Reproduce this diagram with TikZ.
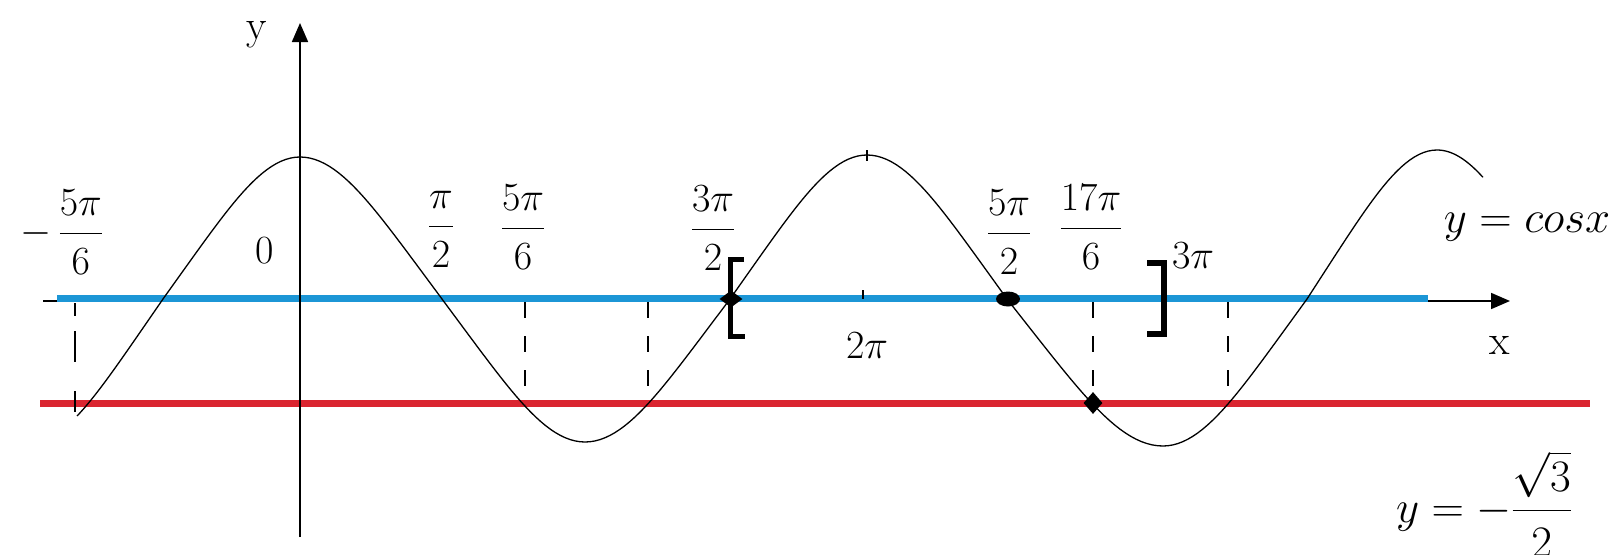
\documentclass[tikz,border=0pt]{standalone}
\usepackage{fix-cm}
\usepackage{amsmath}
\usetikzlibrary{arrows.meta,shapes.geometric}
\definecolor{lineblue}{RGB}{28,150,214}
\definecolor{linered}{RGB}{218,37,48}
\newcommand{\myfrac}[2]{\dfrac{\rule[-0.36em]{0pt}{0.36em}#1}{\rule{0pt}{0.96em}#2}}
% one quarter wave: extreme (#1,#2), axis crossing at x=#3 on y=#4, parameter from #5 to #6 degrees
\newcommand{\qwave}[6]{plot[domain=#5:#6,samples=30,variable=\t] ({#1+(#3-#1)*\t/90},{#4+(#2-#4)*cos(\t)*(1-0.14*sin(\t)*sin(\t))})}
\newcommand{\qwavec}[6]{--plot[domain=#5:#6,samples=30,variable=\t] ({#1+(#3-#1)*\t/90},{#4+(#2-#4)*cos(\t)*(1-0.14*sin(\t)*sin(\t))})}
\begin{document}
\begin{tikzpicture}[x=1pt,y=-1pt,
  lab/.style={inner sep=0pt,font=\fontsize{40}{48}\selectfont},
  eqlab/.style={inner sep=0pt,font=\fontsize{45}{54}\selectfont},
  axlab/.style={inner sep=0pt,font=\fontsize{42}{50}\selectfont},
  axisline/.style={line width=1.8pt,-{Triangle[length=19pt,width=16pt]}},
  curveline/.style={line width=1.3pt,line join=round},
  guide/.style={line width=1.4pt,dash pattern=on 16pt off 18pt},
  bracketline/.style={line width=5pt,line join=miter},
  bandblue/.style={line width=7pt,draw=lineblue},
  bandred/.style={line width=7pt,draw=linered},
  dot/.style={fill=black,inner sep=0pt}]
\fill[white] (0,0) rectangle (1619,554);
\useasboundingbox (0,0) rectangle (1619,554);

% coordinates
\coordinate (xs) at (43,301);
\coordinate (xe) at (1510,301);
\coordinate (ys) at (300,537);
\coordinate (ye) at (300,23);

% red line y = -sqrt3/2
\draw[bandred] (40,403) -- (1590,403);
% x axis
\draw[axisline] (xs) -- (xe);
% blue band on x axis
\draw[bandblue] (57,298) -- (1428,298);

% dashed guides
\draw[line width=1.4pt,dash pattern=on 13pt off 15pt on 31pt off 29pt on 21pt] (75,303) -- (75,412);
\draw[guide] (525,302) -- (525,404);
\draw[guide] (648,302) -- (648,404);
\draw[guide] (1093,302) -- (1093,404);
\draw[guide] (1228,302) -- (1228,404);

% y axis
\draw[axisline] (ys) -- (ye);

% the cosine curve
\draw[curveline]
  \qwave{28}{444}{163}{299}{32.7}{90}
  \qwavec{300}{157}{163}{299}{90}{0}
  \qwavec{300}{157}{442}{299}{0}{90}
  \qwavec{585}{442}{442}{299}{90}{0}
  \qwavec{585}{442}{730}{299}{0}{90}
  \qwavec{867}{155}{730}{299}{90}{0}
  \qwavec{867}{155}{1007}{299}{0}{90}
  \qwavec{1163}{446}{1007}{299}{90}{0}
  \qwavec{1163}{446}{1307}{299}{0}{90}
  \qwavec{1437}{150}{1307}{299}{90}{0}
  \qwavec{1437}{150}{1567}{299}{0}{31.8};

% ticks
\draw[line width=1.3pt] (863,290) -- (863,299);
\draw[line width=1.1pt] (867,150) -- (867,161);

% brackets
\draw[bracketline] (744,259) -| (730,336) -- (745,336);
\draw[bracketline,line width=6pt] (1147,263) -| (1164,334) -- (1147,334);

% marked points
\node[dot,diamond,minimum width=23pt,minimum height=17pt] (p1) at (731,299) {};
\node[dot,ellipse,minimum width=24pt,minimum height=15pt] (p2) at (1008,299) {};
\node[dot,diamond,minimum width=19pt,minimum height=22pt] (p3) at (1093,403) {};

% labels
\node[lab,anchor=base] (lm56) at (62,243) {$-\,\myfrac{5\pi}{6}$};
\node[lab] (l0) at (265,251) {0};
\node[lab,anchor=base] (lp2) at (441,236) {$\myfrac{\pi}{2}$};
\node[lab,anchor=base] (l56) at (523,238) {$\myfrac{5\pi}{6}$};
\node[lab,anchor=base] (l32) at (713,239) {$\myfrac{3\pi}{2}$};
\node[lab] (l2p) at (867,346) {$2\pi$};
\node[lab,anchor=base] (l52) at (1009,243) {$\myfrac{5\pi}{2}$};
\node[lab,anchor=base] (l176) at (1091,238) {$\myfrac{17\pi}{6}$};
\node[lab,anchor=base] (l3p) at (1193,268) {$3\pi$};
\node[eqlab,anchor=base] (lcos) at (1527,232) {$y=cos x$};
\node[eqlab,anchor=base] (lsq) at (1484,522) {$y=-\myfrac{\sqrt{3}}{2}$};
\node[axlab] (ly) at (257,35) {y};
\node[axlab] (lx) at (1500,345) {x};
\end{tikzpicture}
\end{document}
